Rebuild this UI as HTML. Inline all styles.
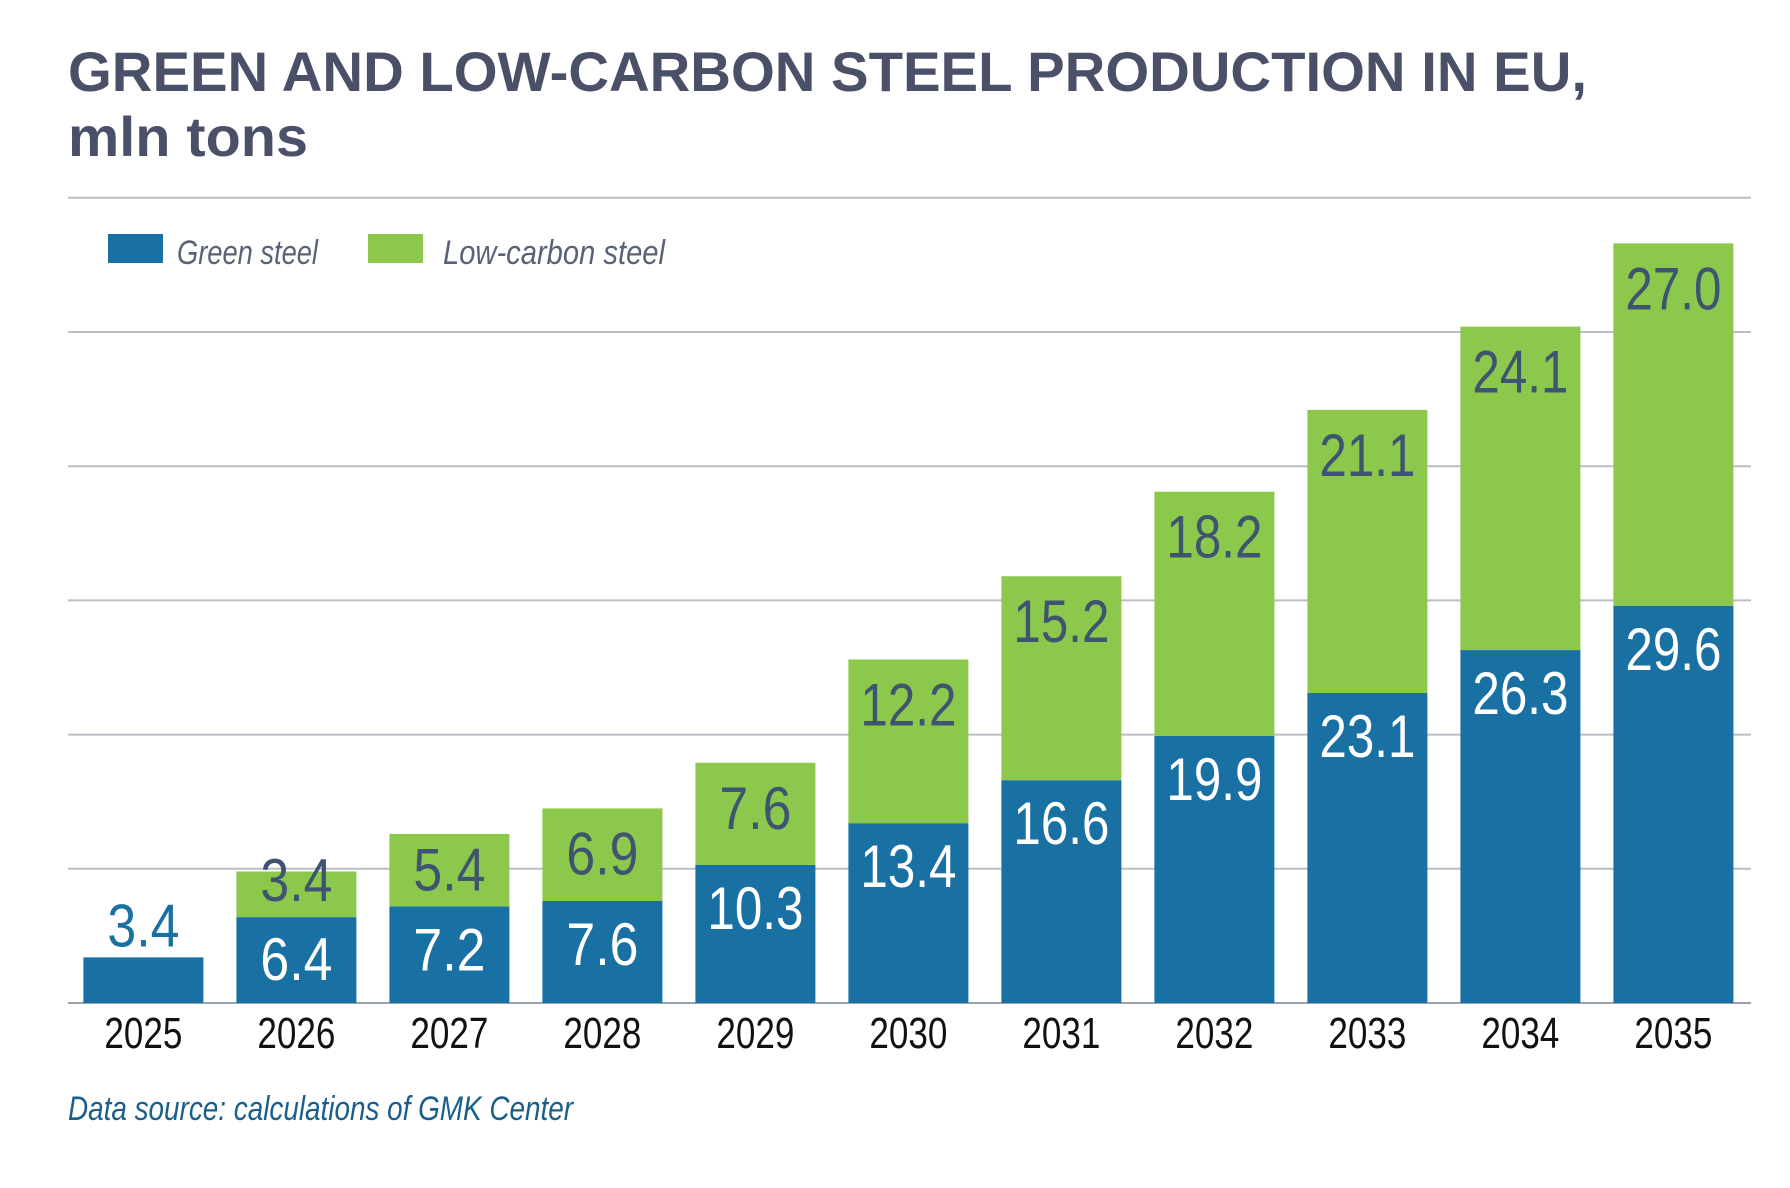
<!DOCTYPE html>
<html><head><meta charset="utf-8"><style>
html,body{margin:0;padding:0;background:#fff;}
svg{display:block;}
</style></head><body>
<svg id="chart" width="1790" height="1188" viewBox="0 0 1790 1188" xmlns="http://www.w3.org/2000/svg" font-family="'Liberation Sans', sans-serif">
<rect width="1790" height="1188" fill="#fff"/>
<text x="68" y="91" font-size="56" font-weight="bold" fill="#4b5069" textLength="1519" lengthAdjust="spacingAndGlyphs">GREEN AND LOW-CARBON STEEL PRODUCTION IN EU,</text>
<text x="68" y="156" font-size="56" font-weight="bold" fill="#4b5069" textLength="240" lengthAdjust="spacingAndGlyphs">mln tons</text>
<g id="grid"></g>
<g>
<rect x="108" y="234" width="55" height="29" fill="#1870a3"/>
<text x="177" y="264" font-size="34" font-style="italic" fill="#5a6275" textLength="141" lengthAdjust="spacingAndGlyphs">Green steel</text>
<rect x="368" y="234" width="55" height="29" fill="#8cc84b"/>
<text x="443" y="264" font-size="34" font-style="italic" fill="#5a6275" textLength="222" lengthAdjust="spacingAndGlyphs">Low-carbon steel</text>
</g>
<g id="bars"></g>
<text x="68" y="1120" font-size="34" font-style="italic" fill="#1a5f8c" textLength="505" lengthAdjust="spacingAndGlyphs">Data source: calculations of GMK Center</text>
</svg>
<script>
const years = ['2025','2026','2027','2028','2029','2030','2031','2032','2033','2034','2035'];
const greenSteel = [3.4,6.4,7.2,7.6,10.3,13.4,16.6,19.9,23.1,26.3,29.6];
const lowCarbonSteel = [0,3.4,5.4,6.9,7.6,12.2,15.2,18.2,21.1,24.1,27.0];
const gridValues = [0,10,20,30,40,50,60];

const NS = 'http://www.w3.org/2000/svg';
const baseY = 1003, pxPerUnit = 13.42;
const firstLeft = 83.4, pitch = 153, barW = 120;
function y(v){ return baseY - v*pxPerUnit; }
function xLeft(i){ return firstLeft + i*pitch; }
function mk(tag, attrs, parent){
  const e = document.createElementNS(NS, tag);
  for (const k in attrs) e.setAttribute(k, attrs[k]);
  parent.appendChild(e); return e;
}
const grid = document.getElementById('grid');
gridValues.forEach(v => {
  const l = mk('line', {x1:68, x2:1751, y1:y(v), y2:y(v), stroke: v===0 ? '#9aa3ab' : '#b9bfc5', 'stroke-width':2}, grid);
  
  
});
const bars = document.getElementById('bars');
function label(txt, cx, by, fill, parent, name){
  const t = mk('text', {x:cx, y:by, 'text-anchor':'middle', 'font-size':60, fill:fill,
    textLength: txt.length*24, lengthAdjust:'spacingAndGlyphs'}, parent);
  t.textContent = txt;
  
  
}
years.forEach((yr, i) => {
  const g = mk('g', {}, bars);
  
  
  const x0 = xLeft(i), cx = x0 + barW/2;
  const gv = greenSteel[i], lv = lowCarbonSteel[i];
  const b = mk('rect', {x:x0, y:y(gv), width:barW, height:gv*pxPerUnit, fill:'#1870a3'}, g);
  
  
  if (lv > 0) {
    const r = mk('rect', {x:x0, y:y(gv+lv), width:barW, height:lv*pxPerUnit, fill:'#8cc84b'}, g);
    
    
    label(lv.toFixed(1), cx, Math.min(y(gv+lv)+66, y(gv)-16), '#3f5470', g, 'value-low-carbon-' + yr);
    label(gv.toFixed(1), cx, Math.min(y(gv)+64, baseY-23), '#ffffff', g, 'value-green-' + yr);
  } else {
    label(gv.toFixed(1), cx, y(gv)-11, '#1870a3', g, 'value-green-' + yr);
  }
  const t = mk('text', {x:cx, y:1048, 'text-anchor':'middle', 'font-size':44, fill:'#111',
    textLength:78, lengthAdjust:'spacingAndGlyphs'}, g);
  t.textContent = yr;
  
  
});
</script>
</body></html>
